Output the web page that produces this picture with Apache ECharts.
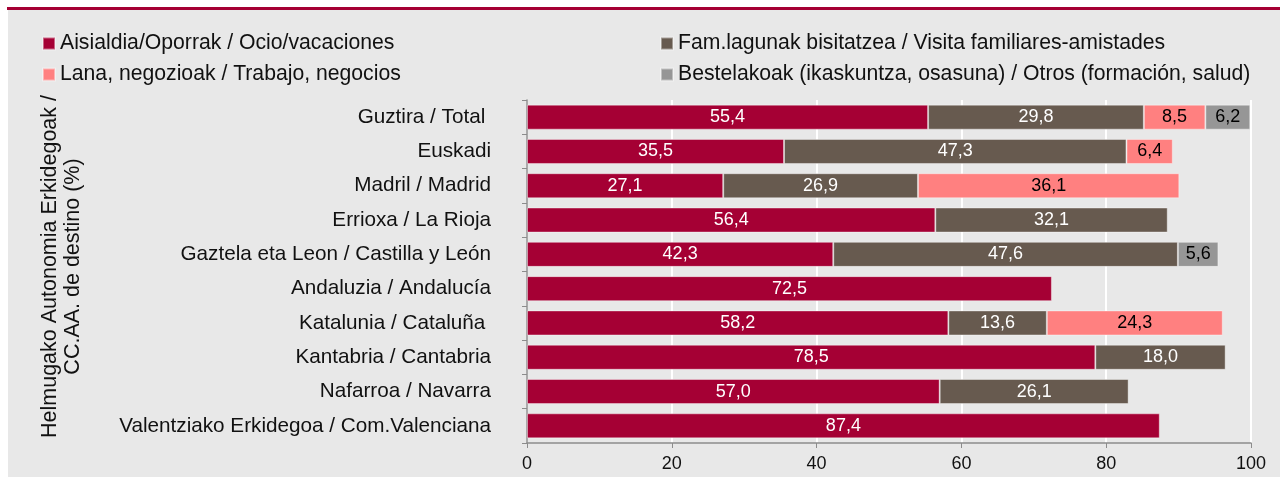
<!DOCTYPE html>
<html>
<head>
<meta charset="utf-8">
<script src="https://cdn.jsdelivr.net/npm/echarts@6/dist/echarts.min.js"></script>
<style>
  html, body { margin: 0; padding: 0; background: #fff; }
  #chart { width: 1280px; height: 477px; }
</style>
</head>
<body>
<div id="chart"></div>
<script>
'use strict';

const categories = [
  'Guztira / Total ',
  'Euskadi',
  'Madril / Madrid',
  'Errioxa / La Rioja',
  'Gaztela eta Leon / Castilla y León',
  'Andaluzia / Andalucía',
  'Katalunia / Cataluña ',
  'Kantabria / Cantabria',
  'Nafarroa / Navarra',
  'Valentziako Erkidegoa / Com.Valenciana'
];

const seriesNames = [
  'Aisialdia/Oporrak / Ocio/vacaciones',
  'Fam.lagunak bisitatzea / Visita familiares-amistades',
  'Lana, negozioak / Trabajo, negocios',
  'Bestelakoak (ikaskuntza, osasuna) / Otros (formación, salud)'
];

const ocio = [55.4, 35.5, 27.1, 56.4, 42.3, 72.5, 58.2, 78.5, 57.0, 87.4];
const familia = [29.8, 47.3, 26.9, 32.1, 47.6, null, 13.6, 18.0, 26.1, null];
const trabajo = [8.5, 6.4, 36.1, null, null, null, 24.3, null, null, null];
const otros = [6.2, null, null, null, 5.6, null, null, null, null, null];

const xTicks = [0, 20, 40, 60, 80, 100];

const colors = ['#a50034', '#675a4f', '#ff8080', '#969696'];
const labelColors = ['#fff', '#fff', '#000', '#000'];

const fmt = (p) => (p.value == null ? '' : p.value.toFixed(1).replace('.', ','));

function makeSeries(name, data, i) {
  return {
    name: name,
    type: 'bar',
    stack: 'total',
    barCategoryGap: '27%',
    data: data,
    itemStyle: { color: colors[i], borderColor: 'rgba(255,255,255,0.4)', borderWidth: 1 },
    label: {
      show: true,
      position: 'inside',
      formatter: fmt,
      color: labelColors[i],
      fontSize: 18
    },
    emphasis: { disabled: true }
  };
}

const chart = echarts.init(document.getElementById('chart'));

chart.setOption({
  animation: false,
  textStyle: { fontFamily: 'Liberation Sans, Arial, sans-serif' },
  graphic: [
    { type: 'rect', z: -10, shape: { x: 8, y: 10, width: 1272, height: 467 }, style: { fill: '#e8e8e8' } },
    { type: 'rect', z: -9, shape: { x: 7, y: 7, width: 1273, height: 3 }, style: { fill: '#a50034' } }
  ],
  legend: [
    {
      orient: 'vertical',
      left: 37,
      top: 28,
      icon: 'rect',
      itemWidth: 12,
      itemHeight: 12,
      itemGap: 10,
      data: [seriesNames[0], seriesNames[2]],
      textStyle: { fontSize: 21.2, color: '#111' },
      selectedMode: false
    },
    {
      orient: 'vertical',
      left: 655,
      top: 28,
      icon: 'rect',
      itemWidth: 12,
      itemHeight: 12,
      itemGap: 10,
      data: [seriesNames[1], seriesNames[3]],
      textStyle: { fontSize: 21.2, color: '#111' },
      selectedMode: false
    }
  ],
  grid: { left: 527, right: 29, top: 100, bottom: 34 },
  xAxis: {
    type: 'value',
    min: 0,
    max: 100,
    interval: 20,
    axisLine: { show: true, lineStyle: { color: '#8c8c8c', width: 1.5 } },
    axisTick: { show: true, length: 5, lineStyle: { color: '#8c8c8c' } },
    axisLabel: {
      fontSize: 18,
      color: '#111',
      margin: 12,
      formatter: (v) => (xTicks.indexOf(v) >= 0 ? String(v) : '')
    },
    splitLine: { show: true, lineStyle: { color: '#fff', width: 2 } }
  },
  yAxis: {
    type: 'category',
    inverse: true,
    data: categories,
    name: 'Helmugako Autonomia Erkidegoak /\nCC.AA. de destino (%)',
    nameLocation: 'middle',
    nameRotate: 90,
    nameGap: 442,
    nameTextStyle: { fontSize: 21.5, color: '#111', lineHeight: 23, padding: [0, 0, 0, 10] },
    axisLine: { show: true, lineStyle: { color: '#8c8c8c', width: 1.5 } },
    axisTick: { show: true, length: 5, lineStyle: { color: '#8c8c8c' } },
    axisLabel: { fontSize: 20.7, color: '#111', margin: 36 },
    splitLine: { show: false }
  },
  series: [
    makeSeries(seriesNames[0], ocio, 0),
    makeSeries(seriesNames[1], familia, 1),
    makeSeries(seriesNames[2], trabajo, 2),
    makeSeries(seriesNames[3], otros, 3)
  ]
});
</script>
</body>
</html>
